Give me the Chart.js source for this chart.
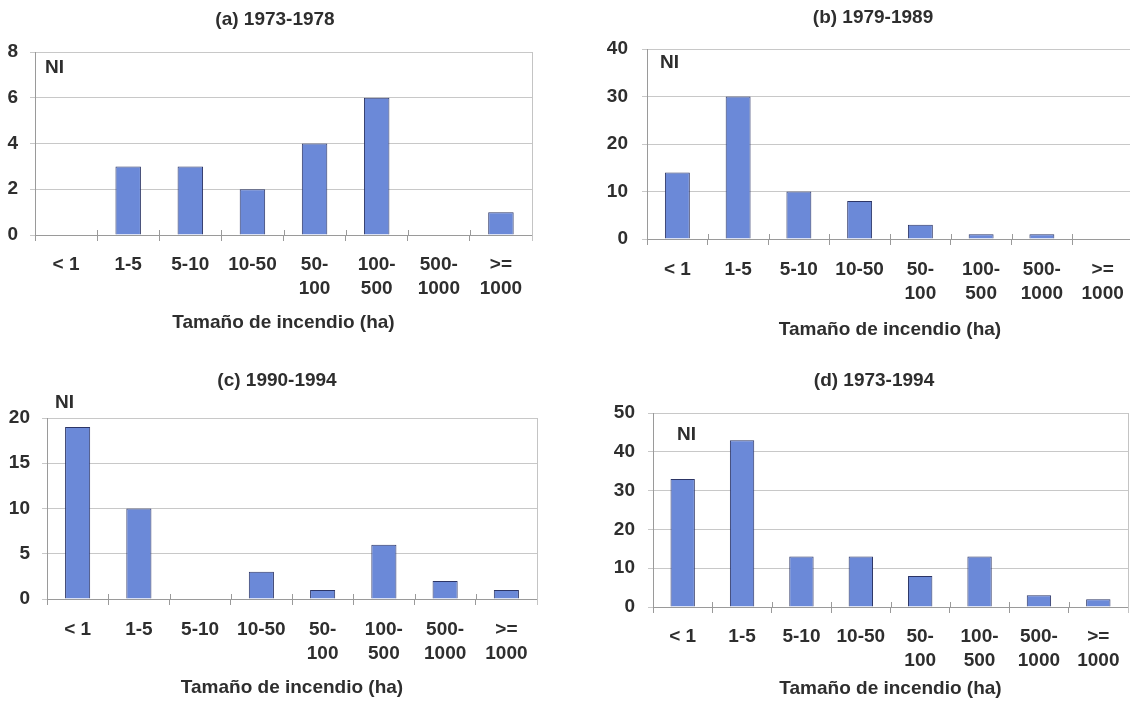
<!DOCTYPE html>
<html><head><meta charset="utf-8">
<script src="https://cdn.jsdelivr.net/npm/chart.js@4.4.1/dist/chart.umd.min.js"></script>
<style>
html,body{margin:0;padding:0;background:#fff;overflow:hidden;width:1130px;height:703px;position:relative;}
canvas{position:absolute;display:block;}
</style></head><body>
<canvas id="ca"></canvas>
<canvas id="cb"></canvas>
<canvas id="cc"></canvas>
<canvas id="cd"></canvas>
<script>
// ---- data ----
const categories = ['< 1', '1-5', '5-10', '10-50', ['50-', '100'], ['100-', '500'], ['500-', '1000'], ['>=', '1000']];
const valuesA = [0, 3, 3, 2, 4, 6, 0, 1];
const valuesB = [14, 30, 10, 8, 3, 1, 1, 0];
const valuesC = [19, 10, 0, 3, 1, 6, 2, 1];
const valuesD = [33, 43, 13, 13, 8, 13, 3, 2];
const titles = ['(a) 1973-1978', '(b) 1979-1989', '(c) 1990-1994', '(d) 1973-1994'];
const yMaxes = [8, 40, 20, 50];
const ySteps = [2, 10, 5, 10];
const yLabel = 'NI';
const xTitle = 'Tamaño de incendio (ha)';
const seriesList = [valuesA, valuesB, valuesC, valuesD];

// ---- layout / style ----
const FAMILY = "'Liberation Sans', Arial, Helvetica, sans-serif";
const TXT = '#2e2e2e';
const panels = [
  {id:'ca', left:0,   top:0,   w:550, h:350, yw:35, y2w:18, xh:115, tPadT:8.6,  tPadB:20.6, xtPadB:15.6, tickPadX:12, tickPadY:12, ni:[10,16]},
  {id:'cb', left:560, top:0,   w:626, h:350, yw:87, y2w:53, xh:111, tPadT:6.6,  tPadB:19.6, xtPadB:8.6,  tickPadX:13, tickPadY:14, ni:[13,14]},
  {id:'cc', left:0,   top:340, w:554, h:363, yw:47, y2w:17, xh:104, tPadT:29.6, tPadB:25.6, xtPadB:3.6,  tickPadX:13, tickPadY:12, ni:[8,-15]},
  {id:'cd', left:560, top:340, w:628, h:363, yw:93, y2w:60, xh:96,  tPadT:29.6, tPadB:20.6, xtPadB:2.6,  tickPadX:12, tickPadY:13, ni:[24,22]}
];

const deco = {
  id: 'deco',
  afterDraw(chart, args, opts) {
    const {ctx, chartArea: a} = chart;
    const x = chart.scales.x;
    ctx.save();
    ctx.lineWidth = 1;
    ctx.strokeStyle = '#c4c4c4';
    ctx.beginPath();
    const rx = Math.round(a.right) + 0.5;
    ctx.moveTo(rx, a.top); ctx.lineTo(rx, a.bottom + 6);
    ctx.stroke();
    ctx.strokeStyle = '#9a9a9a';
    ctx.beginPath();
    for (let i = 1; i < x.ticks.length; i++) {
      const px = Math.round((x.getPixelForTick(i - 1) + x.getPixelForTick(i)) / 2) + 0.5;
      ctx.moveTo(px, a.bottom - 5); ctx.lineTo(px, a.bottom);
    }
    ctx.stroke();
    ctx.fillStyle = TXT;
    ctx.font = 'bold 19px ' + FAMILY;
    ctx.textAlign = 'left';
    ctx.textBaseline = 'middle';
    ctx.fillText(opts.text, a.left + opts.dx, a.top + opts.dy);
    ctx.restore();
  }
};

panels.forEach((p, k) => {
  const cv = document.getElementById(p.id);
  cv.width = p.w; cv.height = p.h;
  cv.style.left = p.left + 'px'; cv.style.top = p.top + 'px';
  cv.style.width = p.w + 'px'; cv.style.height = p.h + 'px';
  const font = {family: FAMILY, size: 19, weight: 'bold'};
  new Chart(cv, {
    type: 'bar',
    data: {
      labels: categories,
      datasets: [{
        data: seriesList[k],
        backgroundColor: '#6b89d8',
        borderColor: '#2c3566',
        borderWidth: 1,
        categoryPercentage: 1,
        barPercentage: 0.41,
        yAxisID: 'y'
      }]
    },
    options: {
      responsive: false,
      animation: false,
      devicePixelRatio: 1,
      layout: {padding: 0},
      plugins: {
        legend: {display: false},
        tooltip: {enabled: false},
        title: {display: true, text: titles[k], color: TXT,
                font: {family: FAMILY, size: 19, weight: 'bold', lineHeight: 1.2},
                padding: {top: p.tPadT, bottom: p.tPadB}},
        deco: {text: yLabel, dx: p.ni[0], dy: p.ni[1]}
      },
      scales: {
        x: {
          type: 'category',
          offset: true,
          grid: {display: true, drawOnChartArea: false, offset: true, drawTicks: true, tickLength: 6, color: '#9a9a9a'},
          border: {display: true, color: '#9a9a9a', width: 1},
          ticks: {color: TXT, font: {family: FAMILY, size: 19, weight: 'bold', lineHeight: 24/19}, padding: p.tickPadX, maxRotation: 0, minRotation: 0, autoSkip: false},
          title: {display: true, text: xTitle, color: TXT, font: {family: FAMILY, size: 19, weight: 'bold', lineHeight: 1.2}, padding: {top: 0, bottom: p.xtPadB}},
          afterFit: s => { s.height = p.xh; }
        },
        y: {
          position: 'left',
          min: 0, max: yMaxes[k],
          grid: {color: '#c8c8c8', drawTicks: true, tickLength: 5},
          border: {display: true, color: '#9a9a9a', width: 1},
          ticks: {stepSize: ySteps[k], color: TXT, font: font, padding: p.tickPadY},
          afterFit: s => { s.width = p.yw; }
        },
        y2: {
          position: 'right',
          min: 0, max: yMaxes[k],
          grid: {display: false, drawOnChartArea: false},
          border: {display: false},
          ticks: {display: false},
          afterFit: s => { s.width = p.y2w; }
        }
      }
    },
    plugins: [deco]
  });
});
</script>
</body></html>
